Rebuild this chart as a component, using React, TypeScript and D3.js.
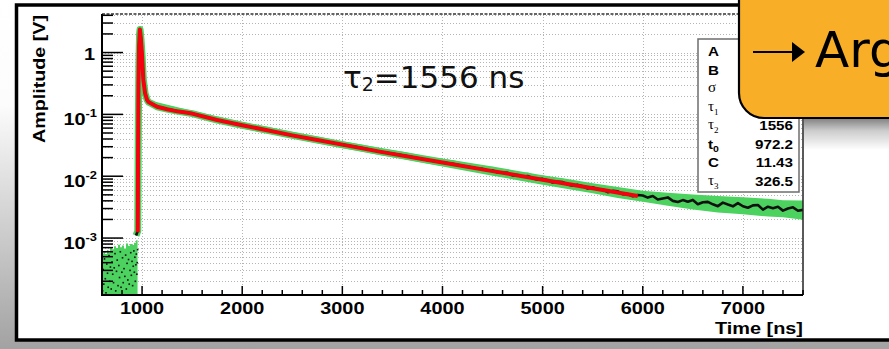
import * as React from "react";
import * as d3 from "d3";

// pre-trigger noise (ns, V): top of the green band, and the scattered samples
const pretrigT = [600, 615, 630, 650, 665, 680, 700, 720, 740, 760, 780, 800, 820, 840, 860, 880, 900, 920, 940, 955];
const pretrigTop = [5.6e-4, 6.0e-4, 5.5e-4, 6.4e-4, 5.8e-4, 7.2e-4, 6.6e-4, 7.4e-4, 6.9e-4, 7.8e-4, 7.1e-4, 7.6e-4, 6.8e-4, 8.2e-4, 7.5e-4, 8.0e-4, 7.7e-4, 8.4e-4, 9.2e-4, 1.05e-3];
const pretrigDots = [
  [606, 1.4e-4], [612, 3.1e-4], [618, 1.8e-4], [625, 4.6e-4], [633, 2.2e-4], [640, 1.3e-4], [648, 3.8e-4],
  [655, 2.7e-4], [662, 1.6e-4], [670, 5.2e-4], [676, 2.0e-4], [684, 3.4e-4], [692, 1.5e-4], [700, 4.1e-4],
  [707, 2.6e-4], [715, 1.9e-4], [722, 3.3e-4], [730, 5.6e-4], [737, 1.4e-4], [745, 2.9e-4], [752, 4.4e-4],
  [760, 1.7e-4], [768, 3.6e-4], [775, 2.3e-4], [783, 6.0e-4], [790, 1.6e-4], [798, 2.8e-4], [805, 4.8e-4],
  [812, 1.9e-4], [820, 3.2e-4], [828, 2.4e-4], [836, 5.3e-4], [843, 1.5e-4], [850, 3.9e-4], [858, 2.1e-4],
  [865, 4.5e-4], [872, 1.8e-4], [880, 3.0e-4], [887, 5.8e-4], [893, 2.5e-4], [900, 4.2e-4], [906, 1.7e-4],
  [912, 3.5e-4], [918, 6.2e-4], [923, 2.8e-4], [928, 4.9e-4], [933, 2.0e-4], [938, 3.7e-4], [943, 5.5e-4],
  [948, 2.6e-4], [952, 4.0e-4], [956, 6.5e-4],
];

// measured waveform (black)
const dataT = [
  940, 957, 962, 968, 975, 980, 990, 1000, 1013, 1030, 1050, 1065, 1100, 1150, 1250, 1350, 1500, 1750, 2000,
  2250, 2500, 2750, 3000, 3200, 3400, 3600, 3800, 4000, 4100, 4200, 4300, 4350,
  4400, 4450, 4500, 4550, 4600, 4650, 4700, 4750, 4800, 4850, 4900, 4950, 5000, 5050, 5100, 5150, 5200, 5250,
  5300, 5350, 5400, 5450, 5500, 5550, 5600, 5650, 5700, 5750, 5800, 5850, 5900, 5950, 6000, 6050, 6100, 6150,
  6200, 6250, 6300, 6350, 6400, 6450, 6500, 6550, 6600, 6650, 6700, 6750, 6800, 6850, 6900, 6950, 7000, 7050,
  7100, 7150, 7200, 7250, 7300, 7350, 7400, 7450, 7500, 7550, 7600,
];
const dataV = [
  0.0011, 0.0013, 0.05, 0.6, 2.0, 2.35, 1.6, 0.9, 0.36, 0.22, 0.172, 0.158, 0.148, 0.133, 0.122, 0.113, 0.103, 0.081, 0.0668,
  0.0553, 0.0457, 0.0385, 0.0324, 0.0285, 0.0245, 0.0218, 0.0189, 0.0167, 0.0159, 0.0147, 0.0138, 0.0133,
  0.01315, 0.01237, 0.01245, 0.01148, 0.01135, 0.01132, 0.01032, 0.01041, 0.00979, 0.01006, 0.00928, 0.0088, 0.00905, 0.0086, 0.00791, 0.00814, 0.00804, 0.00734,
  0.00703, 0.00724, 0.00688, 0.00633, 0.00664, 0.00606, 0.00611, 0.00551, 0.00579, 0.00571, 0.00511, 0.00515, 0.00474, 0.00498,
  0.00488, 0.00451, 0.00478, 0.0042, 0.00437, 0.00454, 0.00399, 0.00383, 0.00411, 0.00387, 0.00414, 0.00352, 0.0038, 0.00385, 0.00351, 0.00328,
  0.00374, 0.00348, 0.00326, 0.00368, 0.00327, 0.00309, 0.00338, 0.00342, 0.00288, 0.00321, 0.00304, 0.00321, 0.00278, 0.00301, 0.00314, 0.00276, 0.00286,
];

// error band around the waveform (green)
const bandT = [1100, 1500, 2000, 3000, 4000, 4500, 5000, 5250, 5500, 5750, 6000, 6250, 6500, 6750, 7000, 7250, 7400, 7600];
const bandLo = [0.132, 0.092, 0.0593, 0.0284, 0.0144, 0.0102, 0.0073, 0.0062, 0.0053, 0.00445, 0.00385, 0.00332, 0.0029, 0.0026, 0.00243, 0.00223, 0.00218, 0.00198];
const bandHi = [0.165, 0.115, 0.0753, 0.0369, 0.0194, 0.0143, 0.0104, 0.009, 0.0077, 0.0067, 0.0058, 0.0054, 0.00505, 0.0048, 0.00455, 0.00432, 0.0041, 0.00405];

// fit (red)
const fitT = [957, 960, 964, 970, 978, 988, 1000, 1013, 1030, 1050, 1065, 1100, 1150, 1250, 1350, 1500, 1750, 2000, 2250, 2500, 2750, 3000, 3400, 4000, 4500, 5000, 5500, 5950];
const fitV = [0.00124, 0.02, 0.3, 1.3, 2.35, 1.7, 0.9, 0.36, 0.22, 0.172, 0.158, 0.147, 0.133, 0.121, 0.112, 0.103, 0.081, 0.0668, 0.0553, 0.0457, 0.0385, 0.0324, 0.0245, 0.0167, 0.0121, 0.00879, 0.00638, 0.00479];

const xTicks = [1000, 2000, 3000, 4000, 5000, 6000, 7000];
const yDecades = [1, 0.1, 0.01, 0.001];
const yDecadeLabels = [["1", ""], ["10", "-1"], ["10", "-2"], ["10", "-3"]];

const statLabels = ["A", "B", "σ", "τ1", "τ2", "t0", "C", "τ3"];
const statValues = ["", "", "", "", "1556", "972.2", "11.43", "326.5"];

const GREEN = "#4cd25e";
const ROOTFONT = "'Liberation Sans', Arial, sans-serif";
const SX = 1.17; // the ROOT picture is a bit stretched sideways

function RootText({ x, y, anchor = "start", size = 17, children }: any) {
  return (
    <g transform={`translate(${x},${y}) scale(${SX},1)`}>
      <text textAnchor={anchor} fontFamily={ROOTFONT} fontSize={size} fontWeight="bold" fill="#000">
        {children}
      </text>
    </g>
  );
}

export default function App() {
  const width = 889, height = 349;
  const x = d3.scaleLinear().domain([600, 7600]).range([102, 803]);
  const y = d3.scaleLog().domain([1.2e-4, 4.2]).range([295, 14]);
  const [xl, xr] = x.range();
  const [yb, yt] = y.range();

  const [ylo, yhi] = y.domain();
  const yMinor: number[] = [];
  [1e-4, 1e-3, 1e-2, 1e-1, 1].forEach(d => {
    for (let m = 2; m <= 9; m++) if (d * m >= ylo && d * m <= yhi) yMinor.push(d * m);
  });
  const xMinor = d3.range(600, 7601, 200).filter(t => !xTicks.includes(t));

  const line = d3.line<number[]>().x(d => x(d[0])).y(d => y(d[1]));
  const data = dataT.map((t, i) => [t, dataV[i]]);
  const fit = fitT.map((t, i) => [t, fitV[i]]);
  const band = d3.area<number>()
    .x(i => x(bandT[i]))
    .y0(i => y(bandLo[i]))
    .y1(i => y(bandHi[i]))(bandT.map((_, i) => i));
  const pretrig = d3.area<number>()
    .x(i => x(pretrigT[i]))
    .y0(yb)
    .y1(i => y(pretrigTop[i]))
    .curve(d3.curveStepAfter)(pretrigT.map((_, i) => i));

  const rowY = d3.scaleLinear().domain([0, 7]).range([56, 186]);

  return (
    <svg width={width} height={height} style={{ position: "absolute", left: 0, top: 0 }}>
      <defs>
        <linearGradient id="bg" x1="0" y1="0" x2="0" y2="1">
          <stop offset="0" stopColor="#ffffff" />
          <stop offset="0.3" stopColor="#fcfcfc" />
          <stop offset="0.5" stopColor="#e2e2e2" />
          <stop offset="1" stopColor="#a2a2a2" />
        </linearGradient>
        <linearGradient id="shadow" x1="0" y1="0" x2="0" y2="1">
          <stop offset="0" stopColor="#000" stopOpacity="0.5" />
          <stop offset="0.4" stopColor="#000" stopOpacity="0.2" />
          <stop offset="1" stopColor="#000" stopOpacity="0" />
        </linearGradient>
        <clipPath id="plot">
          <rect x={xl} y={yt} width={xr - xl} height={yb - yt} />
        </clipPath>
      </defs>

      <rect x={0} y={0} width={width} height={height} fill="url(#bg)" />
      <rect x={16.5} y={5} width={900} height={335} fill="#fff" stroke="#000" strokeWidth={3.5} />

      {/* grid */}
      <g stroke="#b4b4b4" strokeWidth={1} strokeDasharray="1,2">
        {yDecades.concat(yMinor).map((v, i) => (
          <line key={"gy" + i} x1={xl} x2={xr} y1={Math.round(y(v)) + 0.5} y2={Math.round(y(v)) + 0.5} />
        ))}
        {xTicks.map(t => (
          <line key={"gx" + t} x1={Math.round(x(t)) + 0.5} x2={Math.round(x(t)) + 0.5} y1={yt} y2={yb} />
        ))}
      </g>

      {/* data */}
      <g clipPath="url(#plot)">
        <path d={pretrig!} fill={GREEN} />
        {pretrigDots.map((d, i) => (
          <rect key={i} x={x(d[0]) - 0.8} y={y(d[1]) - 0.8} width={1.6} height={1.6} fill="#111" />
        ))}
        <path d={band!} fill={GREEN} />
        <path d={line(data)!} fill="none" stroke={GREEN} strokeWidth={7} strokeLinejoin="round" />
        <path d={line(data)!} fill="none" stroke="#111" strokeWidth={2.6} strokeLinejoin="round" />
        <path d={line(fit)!} fill="none" stroke="#f4000e" strokeWidth={4} strokeLinejoin="round" />
      </g>

      {/* frame and axes */}
      <line x1={xl} x2={xr} y1={yt} y2={yt} stroke="#333" strokeWidth={1.5} strokeDasharray="3,1.5" />
      <line x1={xr} x2={xr} y1={yt} y2={yb} stroke="#222" strokeWidth={1.5} />
      <line x1={xl} x2={xl} y1={yt} y2={yb + 1} stroke="#000" strokeWidth={2} />
      <line x1={xl - 1} x2={xr} y1={yb} y2={yb} stroke="#000" strokeWidth={2} />

      <g stroke="#000" strokeWidth={1.5}>
        {yDecades.map(v => <line key={"ty" + v} x1={xl} x2={xl + 21} y1={y(v)} y2={y(v)} />)}
        {yMinor.map((v, i) => <line key={"tym" + i} x1={xl} x2={xl + 11} y1={y(v)} y2={y(v)} />)}
        {xTicks.map(t => <line key={"tx" + t} x1={x(t)} x2={x(t)} y1={yb} y2={yb - 9} />)}
        {xMinor.map(t => <line key={"txm" + t} x1={x(t)} x2={x(t)} y1={yb} y2={yb - 5} />)}
      </g>

      {xTicks.map(t => (
        <RootText key={"lx" + t} x={x(t)} y={314} anchor="middle">{t}</RootText>
      ))}
      {yDecades.map((v, i) => {
        const [base, exp] = yDecadeLabels[i];
        return exp ? (
          <RootText key={"ly" + v} x={97} y={y(v) + 11} anchor="end">
            {base}
            <tspan fontSize={11} dy={-8}>{exp}</tspan>
          </RootText>
        ) : (
          <RootText key={"ly" + v} x={95} y={y(v) + 7} anchor="end">{base}</RootText>
        );
      })}

      <RootText x={803} y={334} anchor="end">Time [ns]</RootText>
      <g transform="translate(45,15) rotate(-90)">
        <text textAnchor="end" fontFamily={ROOTFONT} fontSize={17} fontWeight="bold" textLength={128} lengthAdjust="spacingAndGlyphs">
          Amplitude [V]
        </text>
      </g>

      {/* annotation */}
      <text x={343} y={88} fontFamily="'DejaVu Sans', sans-serif" fontSize={31} fill="#111">
        τ<tspan fontSize={19} dy={3}>2</tspan><tspan dy={-3}>=1556 ns</tspan>
      </text>

      {/* fit statistics box */}
      <rect x={698} y={39} width={101} height={153} fill="#fff" stroke="#6e6e6e" strokeWidth={1.5} />
      {statLabels.map((s, i) => {
        const main = s[0];
        const sub = s.slice(1);
        const greek = /[α-ω]/.test(main);
        return (
          <g key={"st" + i}>
            {greek ? (
              <text x={708} y={rowY(i) - 1} fontFamily="'Liberation Serif', 'DejaVu Serif', serif" fontSize={15} fill="#000">
                {main}
                {sub && <tspan fontSize={9} dy={4}>{sub}</tspan>}
              </text>
            ) : (
              <RootText x={708} y={rowY(i)} size={13}>
                <tspan>{main}</tspan>
                {sub && <tspan fontSize={9} dy={3}>{sub}</tspan>}
              </RootText>
            )}
            {statValues[i] && (
              <RootText x={793} y={rowY(i)} anchor="end" size={13}>{statValues[i]}</RootText>
            )}
          </g>
        );
      })}

      {/* callout */}
      <rect x={804} y={118} width={90} height={32} fill="url(#shadow)" />
      <path d="M739,-10 L739,93 A25,25 0 0 0 764,118 L900,118 L900,-10 Z" fill="#f9ae27" stroke="#000" strokeWidth={2.2} />
      <line x1={753} x2={794} y1={52} y2={52} stroke="#000" strokeWidth={2} />
      <path d="M792,42 L805,52 L792,62 Z" fill="#000" />
      <text x={815} y={67} fontFamily="'DejaVu Sans', sans-serif" fontSize={50} fill="#000">Arg</text>
    </svg>
  );
}
